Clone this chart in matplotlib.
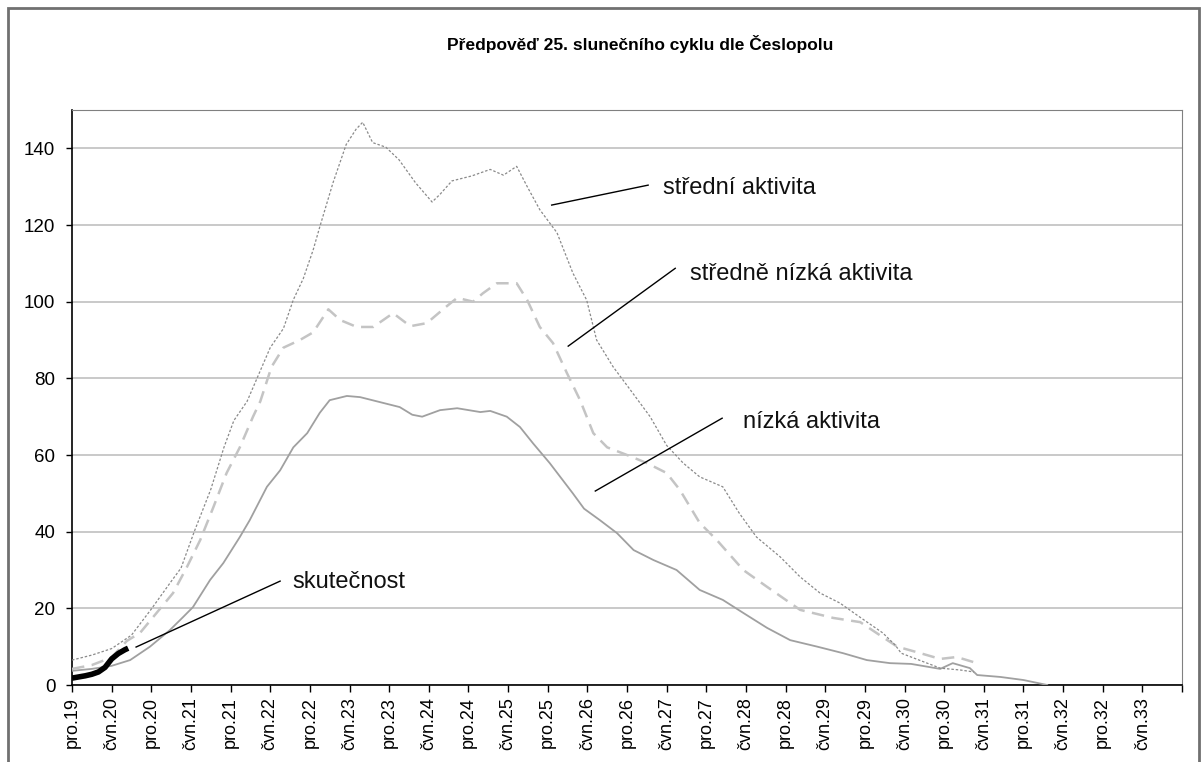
#! /usr/bin/env python3

#Forecast of solar cycle 25 - redrawn from the Ceslopol chart
import matplotlib
matplotlib.use("Agg")
import matplotlib.pyplot as plt
from matplotlib.patches import Rectangle

#Months counted from pro.19 (December 2019)
stredni_m = [0, 3, 6, 9, 12, 15, 16.5, 18.5, 21, 23, 24.5, 26.5, 28, 30, 32, 33.5, 35,
             36.5, 37.5, 39.5, 41.5, 43, 44, 45.5, 47.5, 49.5, 52, 54.5, 55.7, 57.5,
             60.5, 63.3, 65.3, 67.3, 68.9, 70.8, 73.4, 75.8, 77.9, 79.4, 81.9, 84.5,
             87.5, 90, 92.5, 95, 98.5, 101, 103.6, 107.2, 110.2, 113.2, 116.2, 119,
             122.7, 124.6, 125.5, 127, 131.4, 134.5, 136.5]
stredni_v = [6.5, 7.8, 9.5, 13, 19.8, 27, 30.5, 40, 51, 62, 69, 74, 80, 88, 93, 100.5, 106,
             113.5, 119.5, 131, 141, 145, 146.8, 141.5, 140.3, 137, 131, 126, 128, 131.5,
             132.8, 134.5, 133, 135.3, 130, 124, 118, 107.5, 100.4, 90, 83, 77,
             70, 62.5, 57.9, 54.3, 51.7, 44.8, 38.6, 33.4, 28.2, 24, 21.4, 18,
             13.6, 10.4, 8.3, 7.3, 4.4, 3.9, 3.4]

strnizka_m = [0, 3, 6, 8.3, 10.3, 12.8, 15.3, 17.4, 19.4, 21.4, 23.4, 25.4, 27.4, 28.5,
              30.2, 32, 34.5, 36.5, 38.8, 40.6, 43.1, 45.6, 48.6, 51.2, 53.7, 56.5, 58.3,
              60.7, 62.2, 64.3, 67.3, 68.9, 70.8, 72.8, 74.9, 76.9, 78.9, 81, 84, 87, 90,
              92, 95, 97.6, 101.6, 105.2, 110.2, 115.2, 119.3, 122.7, 124.9, 128, 131.4,
              133.9, 136.4]
strnizka_v = [4.2, 5.2, 7.2, 11.5, 13.6, 18.8, 24, 30.8, 37.8, 46.4, 55.3, 62, 70, 74,
              83, 88, 90, 92, 98, 95.2, 93.4, 93.4, 97, 93.6, 94.4, 98.5, 101,
              100, 102.2, 104.8, 104.8, 100.4, 93.4, 89.2, 81.4, 74.3, 65.7, 62, 60, 57.9, 55.3,
              50.9, 42.3, 37.8, 30, 25.6, 19.6, 17.5, 16.4, 12.5, 10, 8.5, 6.8,
              7.3, 6]

nizka_m = [0, 3, 6, 8.8, 11.8, 14.8, 16.8, 18.3, 20.9, 22.9, 25.4, 26.9, 29.5, 31.5, 33.5,
           35.6, 37.5, 39, 41.6, 43.6, 46.6, 49.6, 51.5, 53, 55.7, 58.3, 61.8, 63.3, 65.8,
           67.8, 69.8, 72.3, 75.8, 77.5, 79.9, 82.5, 85, 88, 91.5, 95, 98.5, 101.6, 105.2,
           108.7, 112.8, 116.7, 120.3, 123.8, 127, 131.4, 133.3, 135.9, 137, 140.5, 144, 147.6]
nizka_v = [3.7, 4.2, 5, 6.5, 10, 14.3, 17.7, 20.3, 27.4, 31.8, 38.6, 43, 51.7, 56, 62,
           65.7, 71, 74.3, 75.4, 75.1, 73.8, 72.5, 70.5, 70, 71.7, 72.2, 71.2, 71.5, 70,
           67.3, 63, 57.9, 50, 46, 43, 39.6, 35.2, 32.6, 30, 24.8, 22.2, 18.8, 14.9,
           11.7, 10, 8.3, 6.5, 5.7, 5.5, 4.2, 5.7, 4.4, 2.6, 2.1, 1.3, 0]

skutecnost_m = [0, 1, 2, 3, 4, 5, 6, 7, 8, 8.5]
skutecnost_v = [1.8, 2.1, 2.4, 2.8, 3.4, 4.6, 6.8, 8.2, 9.2, 9.6]

tick_labels = ['pro.19', 'čvn.20', 'pro.20', 'čvn.21', 'pro.21', 'čvn.22', 'pro.22',
               'čvn.23', 'pro.23', 'čvn.24', 'pro.24', 'čvn.25', 'pro.25', 'čvn.26',
               'pro.26', 'čvn.27', 'pro.27', 'čvn.28', 'pro.28', 'čvn.29', 'pro.29',
               'čvn.30', 'pro.30', 'čvn.31', 'pro.31', 'čvn.32', 'pro.32', 'čvn.33']

#label text, line start (month, value), line end, text position
labels = [('střední aktivita', (72.6, 125.2), (87.2, 130.4), (89.4, 129.6)),
          ('středně nízká aktivita', (75.1, 88.4), (91.3, 108.7), (93.5, 107.2)),
          ('nízká aktivita', (79.2, 50.6), (98.4, 69.6), (101.6, 68.6)),
          ('skutečnost', (9.7, 9.9), (31.5, 27.1), (33.4, 26.9))]

plt.rcParams['font.family'] = ['Liberation Sans', 'DejaVu Sans']

fig = plt.figure(figsize=(12.03, 7.62), dpi=100)
ax = fig.add_axes([72 / 1203, 1 - 685 / 762, 1110 / 1203, 575 / 762])

ax.plot(nizka_m, nizka_v, color='#a0a0a0', lw=1.3, zorder=3)
ax.plot(strnizka_m, strnizka_v, color='#c4c4c4', lw=1.8, linestyle=(0, (5, 3)), zorder=3)
ax.plot(stredni_m, stredni_v, color='#8a8a8a', lw=0.9, linestyle=(0, (2, 1.5)), zorder=4)
ax.plot(skutecnost_m, skutecnost_v, color='black', lw=4, solid_capstyle='butt', zorder=5)

for text, start, end, pos in labels:
    ax.plot([start[0], end[0]], [start[1], end[1]], color='black', lw=1, zorder=6)
    ax.text(pos[0], pos[1], text, fontsize=17, va='center', ha='left', color='#111111')

ax.set_xlim(0, 168)
ax.set_ylim(0, 150)
ax.set_yticks(range(0, 141, 20))
ax.set_xticks(range(0, 169, 6))
ax.set_xticklabels(tick_labels + [''], rotation=90, fontsize=13)
ax.tick_params(axis='y', labelsize=13.5, length=4, width=1, pad=8)
ax.tick_params(axis='x', length=5, width=1, pad=4)
ax.yaxis.grid(True, color='#c0c0c0', lw=1.2)
ax.set_axisbelow(True)

ax.spines['top'].set_color('#808080')
ax.spines['right'].set_color('#808080')
ax.spines['left'].set_linewidth(1.2)
ax.spines['bottom'].set_linewidth(1.2)

fig.text(640 / 1203, 1 - 44 / 762, 'Předpověď 25. slunečního cyklu dle Česlopolu',
         ha='center', va='center', fontsize=12.5, fontweight='bold')

#outer chart frame
fig.patches.append(Rectangle((8 / 1203, -0.05), 1191 / 1203, 1.05 - 8 / 762,
                             transform=fig.transFigure, fill=False,
                             edgecolor='#707070', lw=2))

plt.savefig('out.png', dpi=100)
